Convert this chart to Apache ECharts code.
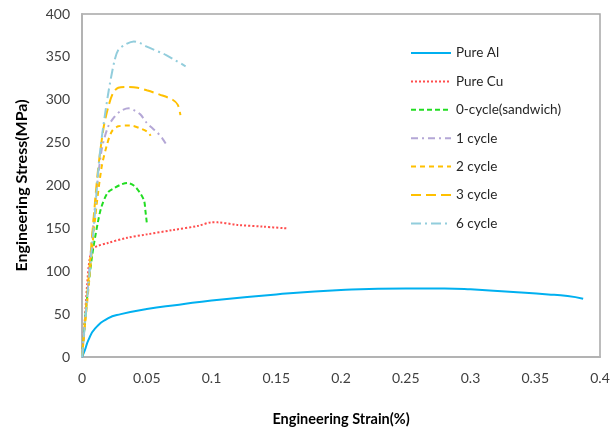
<!DOCTYPE html>
<html>
<head>
<meta charset="utf-8">
<script src="https://cdn.jsdelivr.net/npm/echarts@6/dist/echarts.min.js"></script>
<style>
  html, body { margin: 0; padding: 0; background: #fff; }
  #chart { width: 614px; height: 432px; }
</style>
</head>
<body>
<div id="chart"></div>
<script>
// [strain, stress] pairs
var pureAl = [[0,0],[0.002,7],[0.005,20],[0.01,33],[0.02,45],[0.03,50],[0.05,56],[0.075,61],[0.1,66],[0.15,73],[0.2,78],[0.25,80],[0.28,80],[0.3,79],[0.33,76],[0.36,73],[0.375,71],[0.387,68]];
var pureCu = [[0,0],[0.002,40],[0.004,85],[0.006,115],[0.009,127],[0.02,133],[0.035,139],[0.05,143],[0.07,148],[0.09,153],[0.1,157],[0.105,157],[0.12,154],[0.14,152],[0.158,150]];
var cycle0 = [[0,0],[0.004,70],[0.008,120],[0.012,155],[0.015,175],[0.02,192],[0.025,197],[0.03,201],[0.035,203],[0.04,200],[0.045,191],[0.048,182],[0.049,170],[0.05,157]];
var cycle1 = [[0,0],[0.005,90],[0.01,175],[0.015,240],[0.02,268],[0.025,280],[0.03,287],[0.036,290],[0.04,288],[0.045,283],[0.05,273],[0.055,266],[0.058,262],[0.062,255],[0.065,248]];
var cycle2 = [[0,0],[0.005,80],[0.01,160],[0.015,220],[0.019,246],[0.023,263],[0.028,269],[0.037,270],[0.046,266],[0.051,262],[0.053,258]];
var cycle3 = [[0,0],[0.005,90],[0.01,180],[0.0125,220],[0.0165,266],[0.02,290],[0.024,308],[0.028,314],[0.035,315],[0.043,314],[0.05,311],[0.06,306],[0.07,300],[0.074,294],[0.076,282]];
var cycle6 = [[0,0],[0.005,85],[0.009,150],[0.014,240],[0.02,305],[0.025,345],[0.028,358],[0.033,364],[0.04,368],[0.045,366],[0.05,362],[0.065,352],[0.08,339]];

var seriesNames = ['Pure Al', 'Pure Cu', '0-cycle(sandwich)', '1 cycle', '2 cycle', '3 cycle', '6 cycle'];

var font = 'Lato, "Open Sans", sans-serif';

function makeLine(name, data, color, dash, smooth) {
  return {
    name: name,
    type: 'line',
    data: data,
    smooth: smooth,
    symbol: 'none',
    lineStyle: { color: color, width: 2, type: dash },
    itemStyle: { color: color }
  };
}

var chart = echarts.init(document.getElementById('chart'));
chart.setOption({
  animation: false,
  backgroundColor: '#fff',
  grid: {
    left: 82, right: 14, top: 14, bottom: 74,
    show: true, borderColor: '#a6a6a6', borderWidth: 1.5
  },
  legend: {
    orient: 'vertical',
    left: 405,
    top: 41,
    itemWidth: 40,
    itemHeight: 14,
    itemGap: 14.4,
    itemStyle: { opacity: 0 },
    data: seriesNames,
    textStyle: { fontFamily: font, fontSize: 13.5, color: '#262626' }
  },
  xAxis: {
    type: 'value',
    min: 0, max: 0.4, interval: 0.05,
    name: 'Engineering Strain(%)',
    nameLocation: 'middle',
    nameGap: 55,
    nameTextStyle: { fontFamily: font, fontSize: 14.5, fontWeight: 'bold', color: '#000' },
    axisLine: { show: true, lineStyle: { color: '#b3b3b3', width: 2 } },
    axisTick: { show: false },
    splitLine: { show: false },
    axisLabel: {
      fontFamily: font, fontSize: 14, color: '#404040', margin: 14,
      formatter: function (v) { return +v.toFixed(2) + ''; }
    }
  },
  yAxis: {
    type: 'value',
    min: 0, max: 400, interval: 50,
    name: 'Engineering Stress(MPa)',
    nameLocation: 'middle',
    nameGap: 52,
    nameTextStyle: { fontFamily: font, fontSize: 16, fontWeight: 'bold', color: '#000' },
    axisLine: { show: true, lineStyle: { color: '#b3b3b3', width: 2 } },
    axisTick: { show: false },
    splitLine: { show: false },
    axisLabel: { fontFamily: font, fontSize: 14, color: '#404040', margin: 12 }
  },
  series: [
    makeLine(seriesNames[0], pureAl, '#00B0F0', 'solid', true),
    makeLine(seriesNames[1], pureCu, '#FF4D4D', [2, 2], 0.3),
    makeLine(seriesNames[2], cycle0, '#22DD22', [5, 3], 0.3),
    makeLine(seriesNames[3], cycle1, '#B4A7D6', [7, 4, 2, 4], 0.3),
    makeLine(seriesNames[4], cycle2, '#FFC000', [5, 4], 0.3),
    makeLine(seriesNames[5], cycle3, '#FFC000', [10, 5], 0.3),
    makeLine(seriesNames[6], cycle6, '#92CDDC', [10, 4, 2, 4], 0.3)
  ]
});
</script>
</body>
</html>
